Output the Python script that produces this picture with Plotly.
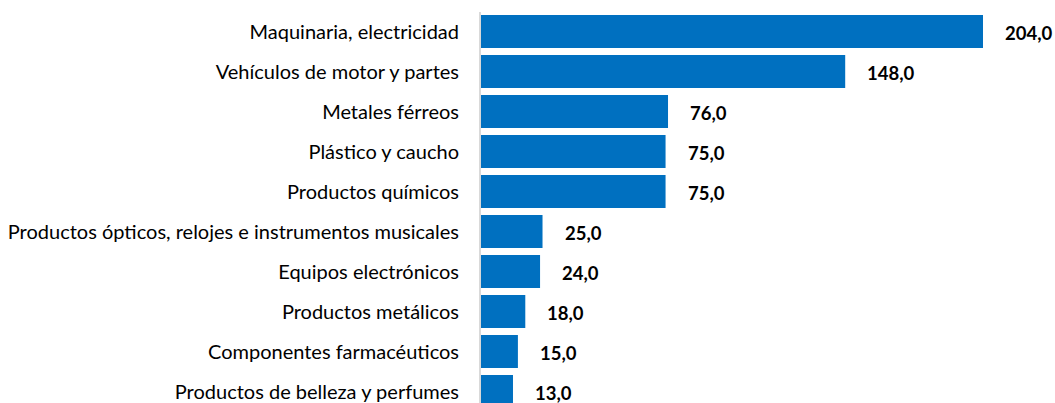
import plotly.graph_objects as go

categories = [
    "Maquinaria, electricidad",
    "Vehículos de motor y partes",
    "Metales férreos",
    "Plástico y caucho",
    "Productos químicos",
    "Productos ópticos, relojes e instrumentos musicales",
    "Equipos electrónicos",
    "Productos metálicos",
    "Componentes farmacéuticos",
    "Productos de belleza y perfumes",
]
values = [204.0, 148.0, 76.0, 75.0, 75.0, 25.0, 24.0, 18.0, 15.0, 13.0]
value_labels = [f"{v:.1f}".replace(".", ",") for v in values]

W, H = 1055, 403
left, top = 481, 12
plot_w = W - left
x_max = plot_w / (502 / 204)
FONT = "Lato, Carlito, sans-serif"

fig = go.Figure(go.Bar(
    x=values,
    y=list(range(len(categories))),
    orientation="h",
    marker=dict(color="#0070C0", line=dict(width=0)),
    width=0.82,
    hoverinfo="skip",
))

for i, (v, t) in enumerate(zip(values, value_labels)):
    fig.add_annotation(
        x=v, y=i, text=f"<b>{t}</b>", showarrow=False,
        xanchor="left", yanchor="middle", xshift=20, yshift=-1,
        font=dict(family=FONT, size=18.5, color="#000000"),
    )

n = len(categories)
fig.update_layout(
    width=W, height=H,
    margin=dict(l=left, r=0, t=top, b=0),
    paper_bgcolor="white", plot_bgcolor="white",
    showlegend=False,
    xaxis=dict(range=[0, x_max], visible=False, fixedrange=True),
    yaxis=dict(
        tickmode="array",
        tickvals=list(range(n)),
        ticktext=categories,
        range=[n - 1 + (403 - 391.5) / 40, -19.5 / 40],
        showgrid=False, zeroline=False, fixedrange=True,
        showline=True, linecolor="#D9D9D9", linewidth=2,
        ticks="", ticklabelstandoff=16,
        tickfont=dict(family=FONT, size=20, color="#000000"),
    ),
)

fig.write_html(
    "out.html",
    config={"displayModeBar": False, "staticPlot": True},
    post_script="document.body.style.margin='0';document.body.style.overflow='hidden';",
)
